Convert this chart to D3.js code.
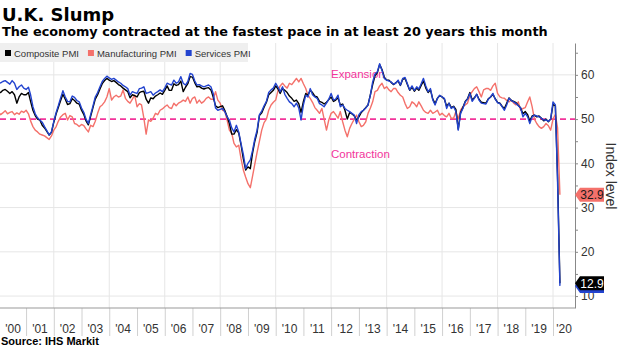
<!DOCTYPE html>
<html>
<head>
<meta charset="utf-8">
<script src="https://cdn.jsdelivr.net/npm/d3@7"></script>
<style>
  body { margin: 0; background: #fff; }
  svg { display: block; }
</style>
</head>
<body>
<svg id="chart" width="620" height="348"></svg>
<script>
// ── Data: monthly PMI readings, Jan 2000 → Apr 2020 ─────────────────────────
const firstMonth = new Date(2000, 0, 1);

const composite = [
  56.2, 56.0, 56.5, 56.7, 56.3, 55.8, 56.2, 55.5, 53.6, 55.0, 55.8, 55.5, // 2000
  55.5, 56.0, 54.0, 52.0, 50.8, 50.0, 49.8, 48.6, 48.0, 47.2, 46.4, 47.0, // 2001
  49.3, 51.2, 52.6, 54.2, 55.6, 54.5, 53.3, 53.5, 54.6, 54.2, 53.6, 53.4, // 2002
  52.0, 51.0, 49.6, 48.7, 50.6, 52.6, 54.5, 55.5, 56.8, 58.0, 58.7, 59.2, // 2003
  58.8, 58.5, 58.7, 58.3, 57.8, 57.5, 57.0, 56.6, 56.2, 54.8, 55.5, 55.3, // 2004
  55.0, 56.0, 56.2, 56.3, 54.5, 53.6, 54.8, 54.6, 55.2, 55.5, 55.9, 55.6, // 2005
  56.5, 57.5, 56.5, 56.5, 58.0, 57.6, 57.8, 58.6, 56.2, 57.2, 58.0, 59.6, // 2006
  59.5, 58.2, 57.3, 57.4, 57.0, 56.8, 57.0, 57.1, 56.6, 55.0, 53.0, 52.6, // 2007
  52.8, 53.0, 52.0, 50.6, 49.0, 46.6, 46.6, 47.6, 46.9, 44.2, 41.0, 38.5, // 2008
  39.2, 38.8, 42.2, 45.0, 47.0, 50.8, 51.4, 52.7, 53.8, 55.5, 56.0, 56.5, // 2009
  57.5, 56.8, 55.8, 56.9, 56.5, 56.0, 55.2, 54.7, 54.0, 54.3, 53.5, 51.5, // 2010
  54.0, 55.8, 55.4, 56.5, 56.0, 55.2, 55.0, 54.0, 53.8, 53.4, 53.8, 54.4, // 2011
  55.0, 54.0, 54.3, 54.8, 53.2, 53.4, 52.0, 50.0, 51.5, 51.2, 50.7, 49.8, // 2012
  50.5, 51.5, 52.0, 52.6, 53.2, 55.5, 57.8, 59.8, 60.5, 62.3, 61.2, 59.5, // 2013
  58.8, 58.8, 58.3, 57.8, 58.2, 58.6, 57.6, 59.0, 59.2, 57.8, 56.5, 57.2, // 2014
  56.3, 57.0, 56.5, 57.6, 58.6, 57.0, 56.0, 56.6, 54.5, 53.5, 54.7, 55.3, // 2015
  55.0, 54.5, 52.9, 53.6, 52.6, 52.9, 52.2, 47.7, 51.5, 52.6, 54.0, 54.6, // 2016
  56.0, 54.3, 54.8, 55.6, 54.5, 53.8, 53.7, 53.6, 54.6, 55.0, 55.6, 54.6, // 2017
  53.8, 53.6, 52.9, 52.4, 53.6, 54.8, 54.2, 54.0, 53.7, 53.1, 52.5, 51.2, // 2018
  51.7, 51.0, 49.6, 50.7, 50.9, 50.5, 50.7, 50.2, 49.6, 50.0, 49.4, 50.0, // 2019
  53.3, 53.0, 37.1, 12.9                                                  // 2020
];

const manufacturing = [
  51.7, 51.0, 51.4, 51.9, 51.2, 51.5, 51.7, 51.0, 51.4, 51.1, 51.8, 51.5, // 2000
  52.0, 51.2, 49.6, 48.3, 47.5, 47.1, 46.6, 46.4, 46.2, 45.8, 45.4, 46.2, // 2001
  47.5, 48.3, 49.5, 50.5, 51.0, 51.3, 49.8, 50.8, 50.5, 49.0, 48.8, 48.3, // 2002
  48.8, 48.5, 47.8, 47.1, 48.6, 48.3, 49.5, 51.3, 52.8, 53.2, 53.9, 55.0, // 2003
  56.9, 54.3, 55.0, 55.4, 55.0, 55.2, 56.6, 54.7, 54.0, 53.6, 54.5, 55.4, // 2004
  52.8, 53.5, 53.2, 50.2, 46.6, 49.8, 49.5, 50.2, 51.3, 51.0, 52.0, 52.3, // 2005
  52.8, 53.2, 52.6, 52.4, 53.6, 53.0, 53.6, 53.9, 54.3, 54.0, 55.0, 53.6, // 2006
  54.7, 55.0, 53.6, 54.3, 53.6, 54.0, 54.7, 55.0, 54.5, 54.5, 56.2, 54.3, // 2007
  53.6, 52.0, 51.8, 49.8, 47.5, 46.8, 44.5, 43.7, 44.1, 41.1, 38.5, 36.9, // 2008
  35.4, 34.5, 37.0, 39.8, 42.5, 45.0, 47.5, 49.2, 50.0, 52.0, 53.2, 53.8, // 2009
  54.3, 56.5, 57.5, 58.1, 57.5, 57.0, 58.1, 57.8, 58.5, 59.2, 58.4, 59.2, // 2010
  58.0, 56.9, 55.4, 54.7, 53.8, 52.6, 52.0, 51.3, 52.4, 50.0, 47.5, 49.8, // 2011
  51.3, 51.7, 51.0, 50.2, 51.7, 49.4, 47.5, 46.0, 47.9, 49.0, 50.0, 50.9, // 2012
  49.4, 48.3, 48.6, 49.4, 51.3, 52.5, 53.9, 56.2, 56.5, 57.5, 58.1, 56.9, // 2013
  57.3, 56.6, 56.2, 56.9, 56.9, 56.0, 55.4, 55.0, 53.5, 52.4, 52.8, 53.9, // 2014
  53.5, 52.8, 53.9, 53.0, 52.0, 51.5, 51.3, 52.0, 51.3, 51.6, 52.0, 50.9, // 2015
  51.3, 50.8, 50.5, 51.3, 50.2, 50.2, 51.7, 50.0, 52.0, 52.8, 53.2, 53.6, // 2016
  55.4, 56.2, 56.9, 57.3, 56.2, 55.0, 56.6, 56.9, 56.9, 56.5, 57.5, 58.1, // 2017
  55.8, 55.0, 54.8, 54.7, 54.2, 53.9, 54.3, 53.6, 53.2, 53.9, 52.0, 52.4, // 2018
  52.6, 53.9, 55.0, 52.8, 50.0, 49.0, 48.3, 47.9, 48.3, 49.0, 48.5, 47.5, // 2019
  50.0, 51.0, 48.0, 32.9                                                  // 2020
];

const services = [
  58.0, 58.2, 58.5, 58.7, 58.3, 57.9, 58.7, 58.1, 56.7, 57.3, 57.7, 57.0, // 2000
  56.7, 57.2, 55.5, 52.8, 51.2, 50.3, 49.8, 49.3, 48.3, 47.4, 46.4, 47.1, // 2001
  49.5, 51.5, 53.0, 54.8, 56.4, 55.0, 54.0, 53.9, 55.2, 54.9, 54.2, 53.9, // 2002
  52.5, 51.5, 50.0, 49.0, 51.0, 53.0, 55.0, 56.0, 57.3, 58.5, 59.2, 59.7, // 2003
  59.3, 59.0, 59.2, 58.8, 58.4, 58.1, 57.6, 57.3, 56.9, 55.4, 56.2, 56.0, // 2004
  55.8, 56.9, 57.0, 57.3, 55.8, 56.0, 56.2, 55.4, 55.9, 56.2, 56.6, 56.2, // 2005
  57.0, 58.1, 57.9, 57.7, 58.8, 58.1, 58.4, 59.6, 58.1, 57.7, 58.5, 60.3, // 2006
  60.1, 58.6, 57.7, 57.8, 57.5, 57.3, 57.5, 57.7, 57.3, 55.8, 52.5, 52.0, // 2007
  52.2, 52.4, 51.7, 50.5, 49.8, 48.0, 47.1, 48.6, 47.1, 44.5, 42.0, 38.8, // 2008
  40.0, 40.8, 42.8, 45.5, 47.5, 51.0, 51.8, 53.0, 54.0, 56.0, 56.6, 57.0, // 2009
  58.1, 57.2, 56.2, 57.3, 55.6, 54.7, 53.9, 53.5, 52.8, 53.6, 52.5, 49.8, // 2010
  53.2, 55.4, 55.0, 56.9, 55.5, 55.0, 54.7, 53.5, 53.2, 52.8, 53.6, 54.5, // 2011
  55.8, 54.3, 54.5, 55.4, 52.8, 53.2, 52.4, 52.0, 51.7, 51.3, 50.9, 49.0, // 2012
  51.0, 51.7, 52.0, 52.5, 53.2, 55.4, 58.4, 60.2, 60.7, 62.5, 61.0, 59.2, // 2013
  58.8, 58.6, 58.4, 57.9, 58.1, 58.8, 57.7, 59.2, 59.4, 58.0, 56.6, 57.5, // 2014
  56.5, 57.3, 56.8, 58.0, 59.2, 57.5, 56.2, 56.9, 54.3, 53.2, 54.7, 55.4, // 2015
  55.0, 54.7, 52.4, 53.6, 52.4, 52.8, 51.7, 47.5, 51.3, 52.4, 53.9, 54.5, // 2016
  55.8, 54.0, 54.7, 55.6, 54.3, 53.6, 53.5, 53.4, 54.5, 55.0, 55.8, 54.5, // 2017
  53.7, 53.5, 52.8, 52.0, 53.2, 54.7, 54.2, 53.9, 53.5, 53.0, 52.5, 50.5, // 2018
  51.3, 50.5, 49.0, 50.5, 50.9, 50.7, 50.5, 50.2, 49.8, 49.8, 49.5, 50.0, // 2019
  53.9, 53.2, 35.7, 12.3                                                  // 2020
];

const seriesNames = ["Composite PMI", "Manufacturing PMI", "Services PMI"];
const yearLabels = ["'00","'01","'02","'03","'04","'05","'06","'07","'08","'09","'10",
                    "'11","'12","'13","'14","'15","'16","'17","'18","'19","'20"];
const yMajorTicks = [10, 20, 30, 40, 50, 60];
const yMinorTicks = [15, 25, 35, 45, 55, 65];
const threshold = 50;

// ── Layout ──────────────────────────────────────────────────────────────────
const plot = { left: 0, right: 575, top: 43, bottom: 308 };
const colors = { "Composite PMI": "#000000", "Manufacturing PMI": "#f4716b", "Services PMI": "#2243cf" };
const pink = "#f2349b";
const sans = "'Liberation Sans', Arial, sans-serif";
const heavy = "'DejaVu Sans', Verdana, sans-serif";

const svg = d3.select("#chart");

const x = d3.scaleTime()
  .domain([new Date(2000, 0, 1), new Date(2021, 0, 1)])
  .range([-1.7, 580.8]);
const y = d3.scaleLinear().domain([7.3, 67.2]).range([plot.bottom, plot.top]);

const toSeries = arr => arr.map((v, i) => ({ date: d3.timeMonth.offset(firstMonth, i), v }));
const series = [
  { name: "Manufacturing PMI", values: toSeries(manufacturing) },
  { name: "Composite PMI", values: toSeries(composite) },
  { name: "Services PMI", values: toSeries(services) },
];

// ── Titles ──────────────────────────────────────────────────────────────────
svg.append("text").attr("x", 2).attr("y", 21)
  .attr("font-family", heavy).attr("font-weight", "bold").attr("font-size", 18)
  .attr("fill", "#000").text("U.K. Slump");

const sub = svg.append("text").attr("x", 2).attr("y", 36)
  .attr("font-family", heavy).attr("font-weight", "bold").attr("font-size", 13)
  .attr("fill", "#000").text("The economy contracted at the fastest pace in at least 20 years this month");
sub.attr("font-size", 13 * 546 / sub.node().getComputedTextLength());

// ── Grid ────────────────────────────────────────────────────────────────────
const grid = svg.append("g");
grid.selectAll("line.h").data(yMajorTicks.filter(v => v !== threshold)).join("line")
  .attr("x1", plot.left).attr("x2", plot.right)
  .attr("y1", d => y(d)).attr("y2", d => y(d))
  .attr("stroke", "#e6e6e6").attr("stroke-width", 1);
grid.selectAll("line.v").data(d3.range(2002, 2021, 2)).join("line")
  .attr("x1", d => x(new Date(d, 0, 1))).attr("x2", d => x(new Date(d, 0, 1)))
  .attr("y1", plot.top).attr("y2", plot.bottom)
  .attr("stroke", "#e6e6e6").attr("stroke-width", 1);

// ── Legend ──────────────────────────────────────────────────────────────────
svg.append("rect").attr("x", 0).attr("y", 43).attr("width", 248).attr("height", 19)
  .attr("fill", "#efefef");
let lx = 5;
seriesNames.forEach(name => {
  svg.append("rect").attr("x", lx).attr("y", 50).attr("width", 6).attr("height", 6)
    .attr("fill", colors[name]);
  const t = svg.append("text").attr("x", lx + 9).attr("y", 57)
    .attr("font-family", sans).attr("font-size", 9.5).attr("fill", "#333").text(name);
  lx += 9 + t.node().getComputedTextLength() + 9;
});

// ── Threshold ───────────────────────────────────────────────────────────────
svg.append("line")
  .attr("x1", plot.left).attr("x2", plot.right)
  .attr("y1", y(threshold)).attr("y2", y(threshold))
  .attr("stroke", pink).attr("stroke-width", 1.6).attr("stroke-dasharray", "6,4");
svg.append("text").attr("x", 331).attr("y", 78)
  .attr("font-family", sans).attr("font-size", 11.5).attr("fill", pink).text("Expansion");
svg.append("text").attr("x", 331).attr("y", 158)
  .attr("font-family", sans).attr("font-size", 11.5).attr("fill", pink).text("Contraction");

// ── Lines ───────────────────────────────────────────────────────────────────
svg.append("clipPath").attr("id", "clip").append("rect")
  .attr("x", plot.left).attr("y", 0).attr("width", plot.right - plot.left).attr("height", plot.bottom);

const line = d3.line().x(d => x(d.date)).y(d => y(d.v));
svg.append("g").attr("clip-path", "url(#clip)")
  .selectAll("path").data(series).join("path")
  .attr("d", d => line(d.values))
  .attr("fill", "none")
  .attr("stroke", d => colors[d.name])
  .attr("stroke-width", 1.4)
  .attr("stroke-linejoin", "round");

// ── X axis ──────────────────────────────────────────────────────────────────
const xAxis = svg.append("g").attr("transform", `translate(0,${plot.bottom})`)
  .call(d3.axisBottom(x)
    .tickValues(d3.range(2001, 2021).map(yr => new Date(yr, 0, 1)))
    .tickSize(28).tickSizeOuter(0).tickFormat(""));
xAxis.select(".domain").remove();
xAxis.selectAll(".tick line").attr("stroke", "#d0d0d0");
svg.append("line").attr("x1", plot.left).attr("x2", plot.right)
  .attr("y1", plot.bottom).attr("y2", plot.bottom).attr("stroke", "#999");

svg.append("g").selectAll("text").data(yearLabels).join("text")
  .attr("x", (d, i) => {
    const a = Math.max(plot.left, x(new Date(2000 + i, 0, 1)));
    const b = Math.min(plot.right, x(new Date(2001 + i, 0, 1)));
    return (a + b) / 2;
  })
  .attr("y", 333)
  .attr("text-anchor", "middle")
  .attr("font-family", sans).attr("font-size", 12).attr("fill", "#333")
  .text(d => d);

// ── Y axis (right) ──────────────────────────────────────────────────────────
const yAxis = svg.append("g").attr("transform", `translate(${plot.right},0)`)
  .call(d3.axisRight(y).tickValues(yMajorTicks).tickSize(3).tickSizeOuter(0).tickPadding(3));
yAxis.select(".domain").attr("stroke", "#888");
yAxis.selectAll(".tick line").attr("stroke", "#888");
yAxis.selectAll(".tick text").attr("font-family", sans).attr("font-size", 12).attr("fill", "#333");
svg.append("g").attr("transform", `translate(${plot.right},0)`)
  .call(d3.axisRight(y).tickValues(yMinorTicks).tickSize(3).tickSizeOuter(0).tickFormat(""))
  .call(g => g.select(".domain").remove())
  .selectAll(".tick line").attr("stroke", "#888");

svg.append("text")
  .attr("transform", `translate(606,176) rotate(90)`)
  .attr("text-anchor", "middle")
  .attr("font-family", sans).attr("font-size", 14).attr("fill", "#333")
  .text("Index level");

// ── End-value labels ────────────────────────────────────────────────────────
// services tag sits just under the composite one; only its edge shows
const lastOf = arr => arr[arr.length - 1];
const endLabels = [
  { value: lastOf(services), fill: colors["Services PMI"], text: null },
  { value: lastOf(composite), fill: colors["Composite PMI"], text: "#fff" },
  { value: lastOf(manufacturing), fill: colors["Manufacturing PMI"], text: "#1a1a1a" },
];
const tag = svg.append("g");
endLabels.forEach(d => {
  const g = tag.append("g").attr("transform", `translate(${plot.right},${y(d.value)})`);
  g.append("path").attr("d", "M0,0 L5,-7 L29,-7 L29,7 L5,7 Z").attr("fill", d.fill);
  if (d.text) {
    g.append("text").attr("x", 17).attr("y", 4.3).attr("text-anchor", "middle")
      .attr("font-family", sans).attr("font-size", 12).attr("fill", d.text)
      .text(d3.format(".1f")(d.value));
  }
});

// ── Source ──────────────────────────────────────────────────────────────────
svg.append("text").attr("x", 1).attr("y", 345)
  .attr("font-family", sans).attr("font-weight", "bold").attr("font-size", 11).attr("fill", "#000")
  .text("Source: IHS Markit");
</script>
</body>
</html>
